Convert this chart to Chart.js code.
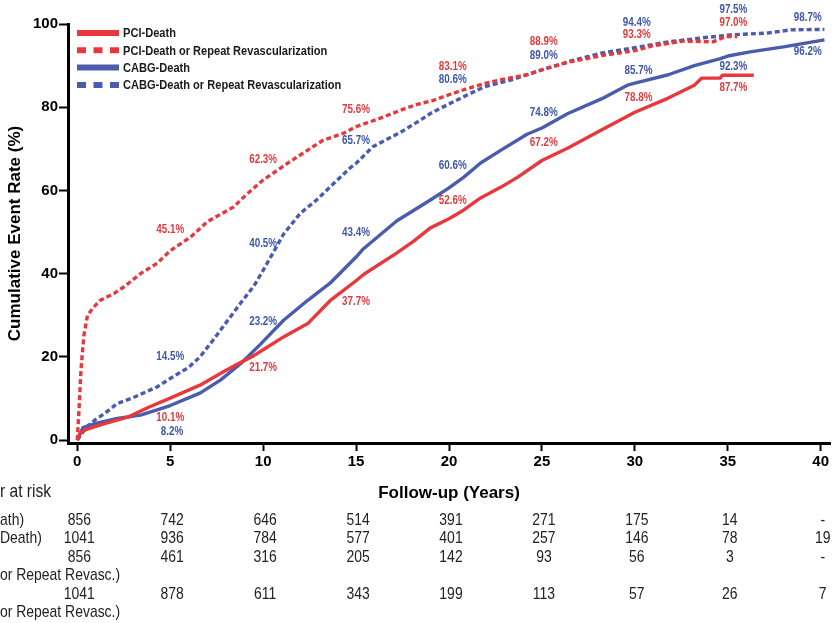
<!DOCTYPE html>
<html><head><meta charset="utf-8">
<script src="https://cdn.jsdelivr.net/npm/chart.js@4.4.1/dist/chart.umd.min.js"></script>
<style>html,body{margin:0;padding:0;background:#fff;overflow:hidden}</style>
</head><body>
<canvas id="c" width="832" height="623"></canvas>
<script>
// ---- data ----
const seriesNames = ['PCI-Death','PCI-Death or Repeat Revascularization','CABG-Death','CABG-Death or Repeat Revascularization'];
const xTickValues = [0,5,10,15,20,25,30,35,40];
const yTickValues = [0,20,40,60,80,100];

const pciDeathT = [0,0.15,0.5,1.2,2.7,3.9,5,6.6,7.7,8.5,9.5,10,11.1,12.4,13.6,15,15.4,17.2,18.1,19,20,20.8,21.7,22.8,23.7,25,26.4,28.2,30,31.8,33.2,33.6,34.6,34.7,36.4];
const pciDeathV = [0,1.7,2.6,3.6,5.5,8,10.1,13.2,16,18,20.3,21.7,24.8,28,33.5,38.3,39.8,45,47.8,51,53.2,55.3,58.2,60.8,63.2,67.2,70.2,74.5,78.8,82.2,85.3,87,87,87.7,87.7];

const pciRevT = [0,0.1,0.2,0.35,0.55,0.8,1.2,2,2.5,3.4,4.3,5,6.1,7,8.4,9.1,10,11.3,12.4,13.2,14.3,15,16.5,17.4,18.3,19.2,20,21,22,23,24.2,25,26.4,28.2,30,31,32.6,34.2,34.9,35.5];
const pciRevV = [0,8,17,25,30,31.5,33.5,35.3,36.8,40,42.5,45.5,48.8,52.5,56,59,62.5,66.5,69.7,72,73.7,75.3,77.7,79.3,80.7,81.7,83,84.5,85.8,86.8,87.8,89,90.8,92.4,93.6,94.8,95.9,95.7,97,97];

const cabgDeathT = [0,0.3,1,2.15,3.4,4.8,5,6.6,7.7,8.8,9.85,11.1,12.4,13.6,15,15.4,17.2,19,20,20.8,21.7,22.8,24.2,25,26.4,28.2,29.6,30,31.8,33.2,34.6,35,36.2,38,40.2];
const cabgDeathV = [0,3,4,5.2,6,8,8.3,11.3,14.4,18.4,23,28.8,33.6,37.7,44,46,52.7,57.7,60.6,63.2,66.6,69.7,73.5,75,78.5,82,85.3,85.8,87.8,90,91.7,92.3,93.3,94.5,96.2];

const cabgRevT = [0,0.5,1,1.5,2.15,3,4.3,5,6,6.6,7.3,8.1,8.8,9.5,10,11.1,12,12.9,13.8,14.7,15,15.9,17.4,18.5,19,20.1,21,21.9,23.3,25,26.7,28.2,30,31.8,33.5,35.2,37.1,38.4,40.2];
const cabgRevV = [0,3.2,5,6.5,8.8,10.2,12.8,14.8,17.5,20,24,28.8,33,37,40.8,49.5,54.5,57.8,61.7,65.5,66.5,70.5,74,77,78.5,81,83,84.9,86.5,89,91.3,93,94.3,95.7,96.6,97.4,97.8,98.6,98.7];

// annotation labels (series index: 0 PCI-Death,1 PCI-Rev,2 CABG-Death,3 CABG-Rev)
const annotText   = ['45.1%','62.3%','75.6%','65.7%','40.5%','43.4%','37.7%','14.5%','23.2%','21.7%','10.1%','8.2%','83.1%','80.6%','88.9%','89.0%','94.4%','93.3%','97.5%','97.0%','98.7%','96.2%','85.7%','78.8%','92.3%','87.7%','74.8%','67.2%','60.6%','52.6%'];
const annotSeries = [1,1,1,3,3,2,0,3,2,0,0,2,1,3,1,3,3,1,3,1,3,2,2,0,2,0,2,0,2,0];
const annotAtX    = [5,10,15,15,10,15,15,5,10,10,5,5.1,20.2,20.2,25.1,25.1,30.1,30.1,35.3,35.3,39.3,39.3,30.2,30.2,35.3,35.3,25.1,25.1,20.2,20.2];
const annotAtY    = [50.5,67.3,79.3,71.9,47.1,49.8,33.2,20,28.4,17.3,5.3,1.9,89.7,86.5,95.7,92.3,100.2,97.4,103.4,100.2,101.4,93.3,88.7,82.2,89.7,84.6,78.6,71.4,65.9,57.5];

// number at risk table
const riskTitle = 'r at risk';
const riskPciDeath  = ['856','742','646','514','391','271','175','14','-'];
const riskCabgDeath = ['1041','936','784','577','401','257','146','78','19'];
const riskPciRev    = ['856','461','316','205','142','93','56','3','-'];
const riskCabgRev   = ['1041','878','611','343','199','113','57','26','7'];
const riskRowLabels = ['ath)','Death)','',''];
const riskRowSubLabels = ['','','or Repeat Revasc.)','or Repeat Revasc.)'];

// ---- styling ----
const RED = '#e8383e', BLUE = '#4a5cad';
const RED_TXT = '#e03b40', BLUE_TXT = '#3f58a8';
const SANS = '"Liberation Sans",Arial,sans-serif';
const NARROW_K = 0.82;

function pts(t, v){ return t.map((x,i)=>({x:x, y:v[i]})); }

const datasets = [
  {label: seriesNames[0], data: pts(pciDeathT, pciDeathV), borderColor: RED, borderWidth: 3.4, dashed:false},
  {label: seriesNames[1], data: pts(pciRevT, pciRevV), borderColor: RED, borderWidth: 3.4, borderDash:[5,3], dashed:true},
  {label: seriesNames[2], data: pts(cabgDeathT, cabgDeathV), borderColor: BLUE, borderWidth: 3.4, dashed:false},
  {label: seriesNames[3], data: pts(cabgRevT, cabgRevV), borderColor: BLUE, borderWidth: 3.4, borderDash:[5,3], dashed:true}
].map(d => Object.assign({pointRadius:0, tension:0, fill:false, borderCapStyle:'butt', borderJoinStyle:'round'}, d));

function narrowText(ctx, text, x, y){
  ctx.save();
  ctx.translate(x, y);
  ctx.scale(NARROW_K, 1);
  ctx.fillText(text, 0, 0);
  ctx.restore();
}

const overlay = {
  id: 'overlay',
  afterDraw(chart){
    const {ctx, chartArea, scales:{x, y}} = chart;
    ctx.save();
    // percentage labels
    ctx.font = 'bold 12px ' + SANS;
    ctx.textAlign = 'center'; ctx.textBaseline = 'middle';
    annotText.forEach((t,i)=>{
      const s = annotSeries[i];
      ctx.fillStyle = (s < 2) ? RED_TXT : BLUE_TXT;
      narrowText(ctx, t, x.getPixelForValue(annotAtX[i]), y.getPixelForValue(annotAtY[i]));
    });
    // legend
    chart.data.datasets.forEach((d,i)=>{
      const ly = chartArea.top + 9 + i*17.3;
      const lx0 = chartArea.left + 9, lx1 = lx0 + 42;
      ctx.strokeStyle = d.borderColor; ctx.lineWidth = 6; ctx.lineCap='butt';
      ctx.setLineDash(d.dashed ? [9,7.5] : []);
      ctx.beginPath(); ctx.moveTo(lx0, ly); ctx.lineTo(lx1, ly); ctx.stroke();
      ctx.setLineDash([]);
      ctx.fillStyle = '#1a1a1a';
      ctx.font = 'bold 13.5px ' + SANS;
      ctx.textAlign = 'left'; ctx.textBaseline = 'middle';
      narrowText(ctx, d.label, lx1 + 4, ly + 0.5);
    });
    // x axis title
    ctx.fillStyle = '#000';
    ctx.font = 'bold 17px ' + SANS;
    ctx.textAlign = 'center'; ctx.textBaseline = 'middle';
    ctx.fillText('Follow-up (Years)', (chartArea.left + chartArea.right)/2, chartArea.bottom + 50);
    // number at risk
    const b = chartArea.bottom;
    ctx.fillStyle = '#222';
    ctx.font = '19px ' + SANS;
    ctx.textAlign = 'left';
    narrowText(ctx, riskTitle, 0, b + 49);
    const rows = [riskPciDeath, riskCabgDeath, riskPciRev, riskCabgRev];
    const rowY = [77, 95, 114, 151];
    const subY = [0, 0, 132, 169];
    ctx.font = '17px ' + SANS;
    rows.forEach((r, ri)=>{
      ctx.textAlign = 'left';
      if (riskRowLabels[ri]) narrowText(ctx, riskRowLabels[ri], 0, b + rowY[ri]);
      if (riskRowSubLabels[ri]) narrowText(ctx, riskRowSubLabels[ri], 0, b + subY[ri]);
      ctx.textAlign = 'center';
      r.forEach((val, ci)=>{
        narrowText(ctx, val, x.getPixelForValue(xTickValues[ci]) + 2, b + rowY[ri]);
      });
    });
    ctx.restore();
  }
};

new Chart(document.getElementById('c'), {
  type: 'line',
  data: { datasets },
  options: {
    responsive: false, animation: false, devicePixelRatio: 1,
    layout: { padding: { top: 24, right: 2, left: 0, bottom: 0 } },
    plugins: { legend: { display: false }, tooltip: { enabled: false } },
    scales: {
      x: {
        type: 'linear', min: -0.5, max: 40.5,
        afterBuildTicks: s => { s.ticks = xTickValues.map(v => ({value: v})); },
        afterFit: s => { s.height = 180; },
        ticks: { color: '#000', font: { family: SANS, size: 15, weight: 'bold' }, padding: 2, autoSkip: false, maxRotation: 0 },
        grid: { display: true, drawOnChartArea: false, drawTicks: true, tickLength: 8, tickWidth: 2, tickColor: '#000' },
        border: { display: true, color: '#000', width: 3 }
      },
      y: {
        type: 'linear', min: -0.7, max: 100,
        afterBuildTicks: s => { s.ticks = yTickValues.map(v => ({value: v})); },
        afterFit: s => { s.width = 68; },
        ticks: { color: '#000', font: { family: SANS, size: 15, weight: 'bold' }, padding: 1 },
        grid: { display: true, drawOnChartArea: false, drawTicks: true, tickLength: 9, tickWidth: 2, tickColor: '#000' },
        border: { display: true, color: '#000', width: 3 },
        title: { display: true, text: 'Cumulative Event Rate (%)', color: '#000', font: { family: SANS, size: 17, weight: 'bold' }, padding: { top: 5, bottom: 0 } }
      }
    }
  },
  plugins: [overlay]
});
</script>
</body></html>
